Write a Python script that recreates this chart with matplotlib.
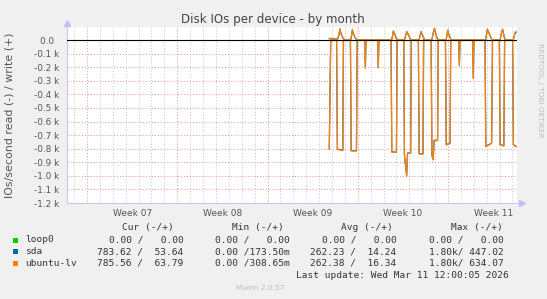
import matplotlib
matplotlib.use("Agg")

import numpy as np
import matplotlib.pyplot as plt
from matplotlib.patches import Rectangle

# time axis in days, 0 = first weekly (red) grid line inside the graph
read_t = [18.79, 18.90, 19.36, 19.42, 19.84, 19.89, 20.43, 20.49, 20.90, 20.95,
          21.54, 21.59, 21.64, 22.54, 22.59, 22.64, 23.58, 23.64, 24.00, 24.05,
          24.57, 24.62, 24.79, 24.86, 25.10, 25.15, 25.70, 25.76, 26.06, 26.11,
          26.69, 26.75, 26.85, 26.92, 27.19, 27.24, 27.80, 27.86, 28.16, 28.21,
          28.83, 28.88, 28.93, 29.91, 29.96, 30.01, 30.87, 30.93, 31.38, 31.45,
          31.98, 32.04, 32.33, 32.39, 33.01, 33.07, 33.27]
lv_read = [805, 0, 0, 805, 815, 0, 0, 817, 817, 0,
           0, 209, 0, 0, 205, 0, 0, 827, 827, 0,
           0, 850, 1006, 835, 835, 0, 0, 840, 840, 0,
           0, 850, 884, 741, 741, 0, 0, 773, 762, 0,
           0, 189, 0, 0, 282, 0, 0, 785, 761, 0,
           0, 773, 780, 0, 0, 773, 786]
sda_read = [800, 0, 0, 802, 812, 0, 0, 814, 815, 0,
            0, 205, 0, 0, 202, 0, 0, 824, 825, 0,
            0, 845, 1000, 832, 832, 0, 0, 836, 837, 0,
            0, 846, 880, 738, 739, 0, 0, 770, 760, 0,
            0, 186, 0, 0, 279, 0, 0, 782, 759, 0,
            0, 770, 778, 0, 0, 770, 784]

write_t = [18.79, 19.20, 19.30, 19.45, 19.55, 19.62, 19.70, 19.78, 19.86, 19.98,
           20.10, 20.45, 20.52, 20.58, 20.66, 20.74, 20.82, 20.95, 21.05, 23.62,
           23.69, 23.76, 23.84, 23.92, 24.00, 24.10, 24.20, 24.62, 24.70, 24.80,
           24.88, 24.95, 25.05, 25.15, 25.25, 25.75, 25.82, 25.91, 25.99, 26.06,
           26.14, 26.25, 26.74, 26.82, 26.94, 27.02, 27.08, 27.16, 27.28, 27.85,
           27.90, 27.98, 28.06, 28.12, 28.20, 28.32, 30.92, 30.98, 31.05, 31.13,
           31.22, 31.32, 31.40, 31.50, 32.04, 32.12, 32.24, 32.32, 32.40, 32.48,
           33.06, 33.12, 33.20, 33.27]
lv_write = [12, 12, 6, 10, 40, 85, 45, 35, 15, 5,
            0, 0, 30, 78, 45, 32, 15, 4, 0, 0,
            25, 69, 45, 30, 12, 3, 0, 0, 25, 64,
            45, 38, 12, 3, 0, 0, 25, 64, 40, 32,
            10, 0, 0, 35, 88, 55, 40, 12, 0, 0,
            25, 74, 40, 32, 10, 0, 0, 35, 81, 60,
            45, 20, 5, 0, 0, 40, 81, 40, 10, 0,
            0, 20, 57, 64]
sda_write = [10, 10, 5, 8, 44, 80, 48, 30, 12, 4,
             0, 0, 34, 74, 48, 28, 12, 3, 0, 0,
             28, 66, 48, 27, 10, 2, 0, 0, 28, 60,
             48, 34, 10, 2, 0, 0, 28, 61, 43, 28,
             8, 0, 0, 38, 84, 58, 36, 10, 0, 0,
             28, 71, 43, 28, 8, 0, 0, 38, 78, 62,
             41, 17, 4, 0, 0, 43, 78, 42, 8, 0,
             0, 24, 52, 54]

week_labels = ["Week 07", "Week 08", "Week 09", "Week 10", "Week 11"]
week_label_pos = [3.5, 10.5, 17.5, 24.5, 31.5]
y_ticks = [0, -100, -200, -300, -400, -500, -600, -700, -800, -900, -1000, -1100, -1200]
y_tick_labels = ["0.0  ", "-0.1 k", "-0.2 k", "-0.3 k", "-0.4 k", "-0.5 k", "-0.6 k",
                 "-0.7 k", "-0.8 k", "-0.9 k", "-1.0 k", "-1.1 k", "-1.2 k"]

legend_names = ["loop0", "sda", "ubuntu-lv"]
legend_colors = ["#00CC00", "#0066B3", "#FF8000"]
cur_vals = ["0.00 /   0.00", "783.62 /  53.64", "785.56 /  63.79"]
min_vals = ["0.00 /   0.00", "0.00 /173.50m", "0.00 /308.65m"]
avg_vals = ["0.00 /   0.00", "262.23 /  14.24", "262.38 /  16.34"]
max_vals = ["0.00 /   0.00", "1.80k/ 447.02", "1.80k/ 634.07"]

W, H = 547, 299


def fx(px):
    return px / W


def fy(py):
    return 1 - py / H


fig = plt.figure(figsize=(W / 100, H / 100), dpi=100, facecolor="#F0F0F0")
ax = fig.add_axes([fx(67), fy(203), (517 - 67) / W, (203 - 27) / H])
ax.set_facecolor("white")
ax.set_xlim(-1.551, 33.35)
ax.set_ylim(-1200, 96)

# grid: daily grey, weekly red, every 100 red
for d in np.arange(-1, 34):
    if d % 7 == 0:
        ax.axvline(d, color="#E89090", lw=0.7, ls=(0, (1, 2)), zorder=1)
    else:
        ax.axvline(d, color="#C4C4C4", lw=0.7, ls=(0, (1, 2)), zorder=1)
for v in y_ticks[1:]:
    ax.axhline(v, color="#E89090", lw=0.7, ls=(0, (1, 2)), zorder=1)

# series: read is drawn negative, write positive
ax.plot(read_t, [0] * len(read_t), color=legend_colors[0], lw=0.8, zorder=2)
ax.plot(read_t, [-v for v in sda_read], color=legend_colors[1], lw=0.9, zorder=3)
ax.plot(write_t, sda_write, color=legend_colors[1], lw=0.9, zorder=3)
ax.plot(read_t, [-v for v in lv_read], color=legend_colors[2], lw=0.9, zorder=4)
ax.plot(write_t, lv_write, color=legend_colors[2], lw=0.9, zorder=4)
ax.axhline(0, color="black", lw=0.8, zorder=5)

# axes
for s in ["top", "right"]:
    ax.spines[s].set_visible(False)
for s in ["left", "bottom"]:
    ax.spines[s].set_color("#C8C8F0")
    ax.spines[s].set_linewidth(0.8)
ax.plot([1.01], [0], marker=">", ms=4, color="#C0C0F8", transform=ax.transAxes, clip_on=False)
ax.plot([0], [1.025], marker="^", ms=4, color="#C0C0F8", transform=ax.transAxes, clip_on=False)

ax.set_xticks(week_label_pos)
ax.set_xticklabels(week_labels)
ax.set_yticks(y_ticks)
ax.set_yticklabels(y_tick_labels)
ax.tick_params(axis="x", length=0, pad=4, labelsize=6.5, labelcolor="#555555")
ax.tick_params(axis="y", length=0, pad=5.4, labelsize=6.4, labelcolor="#555555")

fig.text(fx(273), fy(19), "Disk IOs per device - by month", ha="center", va="center",
         fontsize=8.6, color="#444444")
fig.text(fx(10), fy(115), "IOs/second read (-) / write (+)", ha="center", va="center",
         rotation=90, fontsize=7.9, color="#555555")
fig.text(fx(540), fy(90), "RRDTOOL / TOBI OETIKER", ha="center", va="center",
         rotation=270, fontsize=5.3, color="#BBBBBB")

# legend
mono = "DejaVu Sans Mono"
lsize = 6.8
lcol = "#333333"
col_ends = [183.3, 290, 396.7, 503.3]
headers = ["Cur (-/+)", "Min (-/+)", "Avg (-/+)", "Max (-/+)"]
for x, h in zip([174, 284, 392.7, 502.7], headers):
    fig.text(fx(x), fy(227.3), h, ha="right", va="center", family=mono, fontsize=lsize, color=lcol)
row_y = [240, 251.7, 263.3]
for i, name in enumerate(legend_names):
    y = row_y[i]
    fig.add_artist(Rectangle((fx(13), fy(y + 2.5)), 5 / W, 5 / H, transform=fig.transFigure,
                             facecolor=legend_colors[i], edgecolor="none"))
    fig.text(fx(25), fy(y), name, ha="left", va="center", family=mono, fontsize=lsize, color=lcol)
    for x, vals in zip(col_ends, [cur_vals, min_vals, avg_vals, max_vals]):
        fig.text(fx(x), fy(y), vals[i], ha="right", va="center", family=mono, fontsize=lsize, color=lcol)

fig.text(fx(509), fy(275.7), "Last update: Wed Mar 11 12:00:05 2026", ha="right", va="center",
         family=mono, fontsize=lsize, color=lcol)
fig.text(fx(260), fy(288.3), "Munin 2.0.57", ha="center", va="center", fontsize=5.3, color="#BBBBBB")

fig.savefig("out.png", dpi=100, facecolor=fig.get_facecolor())
